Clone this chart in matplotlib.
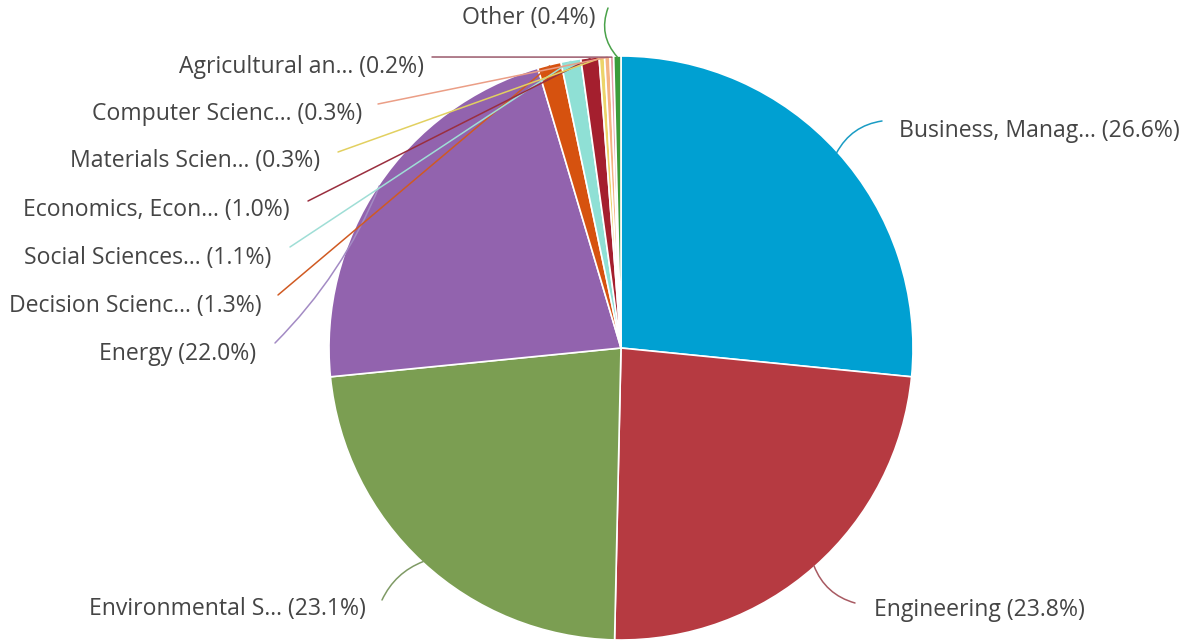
import numpy as np
import matplotlib.pyplot as plt

# --- subject area shares (%) ---
areas = [
    'Business, Manag...', 'Engineering', 'Environmental S...', 'Energy',
    'Decision Scienc...', 'Social Sciences...', 'Economics, Econ...',
    'Materials Scien...', 'Computer Scienc...', 'Agricultural an...', 'Other',
]
shares = [26.6, 23.8, 23.1, 22.0, 1.3, 1.1, 1.0, 0.3, 0.3, 0.2, 0.4]
colors = [
    '#00a0d2', '#b63a41', '#7b9e52', '#9263ae', '#d6520f', '#8fe0d5',
    '#a41f2e', '#ecd46a', '#f4b383', '#e6a2ac', '#3b9c3a',
]
line_colors = [
    '#1a9cc4', '#a85a62', '#7f9a65', '#a38bc4', '#d05a22', '#9fded6',
    '#9a2f3f', '#e2d060', '#eb9e86', '#9a5a6c', '#4aa24a',
]

# label anchor (pixel coords from top-left) and alignment
label_pos = [
    (899, 131, 'left'), (874, 610, 'left'), (366, 609, 'right'),
    (256, 354, 'right'), (262, 306, 'right'), (271, 258, 'right'),
    (290, 210, 'right'), (320, 161, 'right'), (362, 114, 'right'),
    (424, 67, 'right'), (596, 18, 'right'),
]
# where each leader line leaves the label side
line_start = [
    (882, 121), (855, 603), (382, 600), (275, 343), (278, 295), (290, 247),
    (308, 201), (338, 152), (378, 104), (432, 57), (608, 8),
]
line_rad = [0.25, -0.25, -0.2, 0.1, 0, 0, 0, 0, 0, 0, 0.3]

W, H = 1193, 642
CX, CY, R = 621, 348, 292

fig = plt.figure(figsize=(W / 100, H / 100), dpi=100)
ax = fig.add_axes([0, 0, 1, 1])

wedges, _ = ax.pie(
    shares, colors=colors, startangle=90, counterclock=False,
    center=(CX, H - CY), radius=R,
    wedgeprops=dict(edgecolor='white', linewidth=1.2),
)
ax.set_xlim(0, W)
ax.set_ylim(0, H)
ax.set_aspect('equal')
ax.axis('off')

for i, w in enumerate(wedges):
    mid = np.deg2rad((w.theta1 + w.theta2) / 2)
    ex = CX + (R - 1) * np.cos(mid)
    ey = (H - CY) + (R - 1) * np.sin(mid)
    sx, sy = line_start[i]
    ax.annotate(
        '', xy=(ex, ey), xytext=(sx, H - sy),
        arrowprops=dict(arrowstyle='-', color=line_colors[i], lw=1.1,
                        shrinkA=0, shrinkB=0,
                        connectionstyle=f'arc3,rad={line_rad[i]}'),
        zorder=3,
    )
    lx, ly, ha = label_pos[i]
    ax.text(lx, H - ly, f'{areas[i]} ({shares[i]:.1f}%)', ha=ha, va='center',
            fontsize=16.6, family=['Open Sans', 'DejaVu Sans'], color='#454545')

fig.savefig('out.png', dpi=100, facecolor='white')
